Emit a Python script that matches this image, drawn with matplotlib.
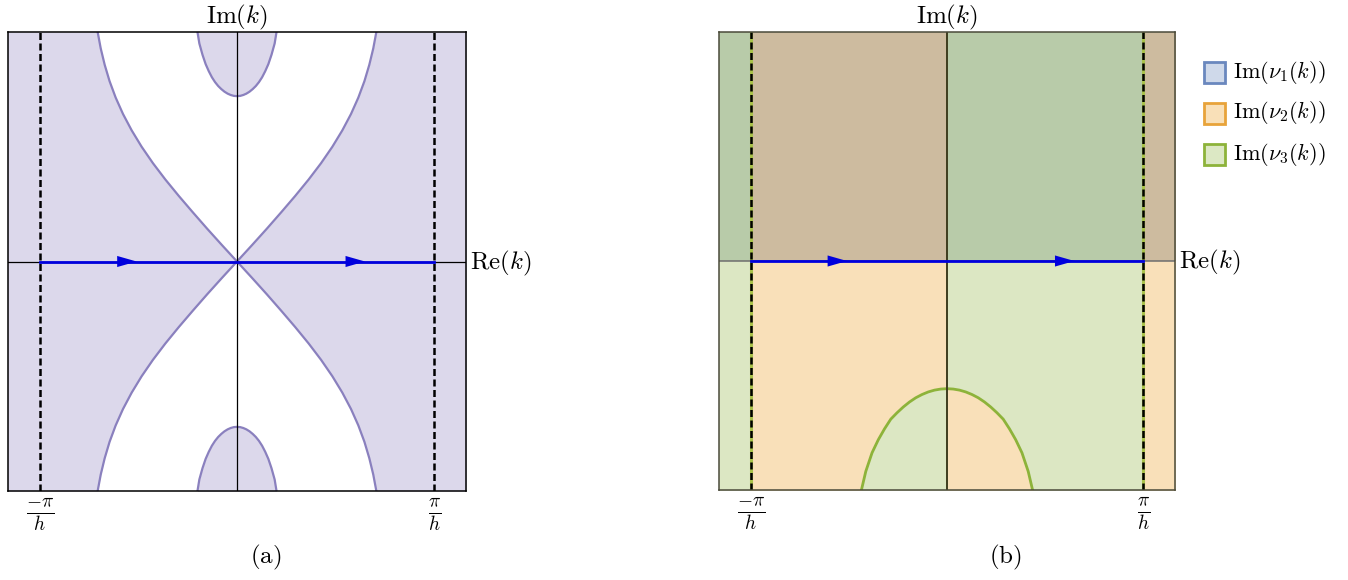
import numpy as np
import matplotlib.pyplot as plt
from matplotlib.patches import Rectangle

plt.rcParams['mathtext.fontset'] = 'cm'
plt.rcParams['font.family'] = 'DejaVu Serif'

# half-width of the plotted window in both directions (units of k, h = 1)
LIM = 3.65

# (a) boundary of the shaded sectors: |Re k| as a function of |Im k|
sep_im = [0.0, 0.261, 0.521, 0.782, 1.043, 1.304, 1.564, 1.825, 2.086, 2.346, 2.607, 2.868, 3.129, 3.389, 3.65]
sep_re = [0.0, 0.240, 0.475, 0.704, 0.928, 1.142, 1.340, 1.520, 1.679, 1.817, 1.934, 2.031, 2.109, 2.172, 2.221]

# (a) the two bubbles on the imaginary axis: |Im k| of the rim vs Re k
bub_re = [0.0, 0.05, 0.10, 0.15, 0.20, 0.25, 0.30, 0.35, 0.40, 0.45, 0.50, 0.55, 0.60, 0.63]
bub_im = [2.63, 2.634, 2.648, 2.670, 2.701, 2.742, 2.791, 2.853, 2.93, 3.027, 3.14, 3.288, 3.467, 3.65]

# (b) bubble below the real axis: Im k of the rim vs |Re k|
arc_re = [0.0, 0.1, 0.2, 0.3, 0.4, 0.5, 0.6, 0.7, 0.8, 0.9, 1.0, 1.1, 1.2, 1.3, 1.37]
arc_im = [-2.035, -2.041, -2.058, -2.087, -2.128, -2.18, -2.247, -2.327, -2.419, -2.521,
          -2.675, -2.849, -3.057, -3.353, -3.65]

# arrow tips on the integration contour
arrow_x = [-1.60, 2.04]

tick_pos = [-np.pi, np.pi]
tick_lab = [r'$\frac{-\pi}{h}$', r'$\frac{\pi}{h}$']

legend_lab = [r'$\mathrm{Im}(\nu_1(k))$', r'$\mathrm{Im}(\nu_2(k))$', r'$\mathrm{Im}(\nu_3(k))$']
legend_face = ['#CFD9EA', '#F9E0B8', '#DCE8C4']
legend_edge = ['#6A88BE', '#E8A33A', '#8DB33A']

LAVENDER = '#DCD8EB'
PURPLE = '#8A80BE'
ORANGE = '#F9E0B9'
GREEN = '#DCE7C3'
BROWN = '#CDBB9F'
SAGE = '#B8CBA9'
BLUE = '#0000DD'


def mirrored(left, right):
    left = np.asarray(left)
    right = np.asarray(right)
    return np.concatenate([-left[::-1], left[1:]]), np.concatenate([right[::-1], right[1:]])


def contour_and_labels(ax, frame='black'):
    ax.set_xlim(-LIM, LIM)
    ax.set_ylim(-LIM, LIM)
    ax.set_yticks([])
    ax.set_xticks(tick_pos, tick_lab, fontsize=20)
    ax.tick_params(axis='x', length=0, pad=4)
    for s in ax.spines.values():
        s.set_color(frame)
        s.set_linewidth(1.1)
        s.set_zorder(6)
    ax.plot([-np.pi, np.pi], [0, 0], color=BLUE, lw=2, zorder=5)
    for xa in arrow_x:
        ax.annotate('', xy=(xa, 0), xytext=(xa - 0.05, 0),
                    arrowprops=dict(arrowstyle='-|>,head_length=1.4,head_width=0.4',
                                    color=BLUE, lw=0, shrinkA=0, shrinkB=0),
                    zorder=6)
    for xv in tick_pos:
        ax.axvline(xv, color='black', lw=1.8, ls=(0, (2.8, 1.4)), zorder=4)
    ax.text(0, LIM + 0.13, r'$\mathrm{Im}(k)$', ha='center', va='baseline', fontsize=18)
    ax.text(LIM + 0.07, -0.03, r'$\mathrm{Re}(k)$', ha='left', va='center', fontsize=18)


fig = plt.figure(figsize=(13.48, 5.80), dpi=100)

# ---- (a) ----
ax1 = fig.add_axes([8 / 1348, 89 / 580, 458 / 1348, 459 / 580])
yy, xx = mirrored(sep_im, sep_re)
ax1.fill_betweenx(yy, -LIM - 1, -xx, color=LAVENDER, lw=0)
ax1.fill_betweenx(yy, xx, LIM + 1, color=LAVENDER, lw=0)
ax1.plot(-xx, yy, color=PURPLE, lw=1.6)
ax1.plot(xx, yy, color=PURPLE, lw=1.6)
bx, by = mirrored(bub_re, bub_im)
for sgn in (1, -1):
    ax1.fill_between(bx, sgn * by, sgn * (LIM + 1), color=LAVENDER, lw=0)
    ax1.plot(bx, sgn * by, color=PURPLE, lw=1.6)
ax1.axhline(0, color='black', lw=0.9, zorder=3)
ax1.axvline(0, color='black', lw=0.9, zorder=3)
contour_and_labels(ax1)

# ---- (b) ----
ax2 = fig.add_axes([719 / 1348, 90 / 580, 456 / 1348, 458 / 580])
W = LIM + 1
# upper half: nu_1 overlaps nu_2 / nu_3
ax2.fill_between([-W, -np.pi], 0, W, color=SAGE, lw=0)
ax2.fill_between([-np.pi, 0], 0, W, color=BROWN, lw=0)
ax2.fill_between([0, np.pi], 0, W, color=SAGE, lw=0)
ax2.fill_between([np.pi, W], 0, W, color=BROWN, lw=0)
# lower half: nu_2 / nu_3 only
ax2.fill_between([-W, -np.pi], -W, 0, color=GREEN, lw=0)
ax2.fill_between([-np.pi, 0], -W, 0, color=ORANGE, lw=0)
ax2.fill_between([0, np.pi], -W, 0, color=GREEN, lw=0)
ax2.fill_between([np.pi, W], -W, 0, color=ORANGE, lw=0)
ar = np.asarray(arc_re)
ai = np.asarray(arc_im)
ax2.fill_between(-ar, ai, -W, color=GREEN, lw=0)
ax2.fill_between(ar, ai, -W, color=ORANGE, lw=0)
cx, cy = mirrored(arc_re, arc_im)
ax2.plot(cx, cy, color='#8DB33A', lw=2, zorder=3)
for xv in tick_pos:
    ax2.axvline(xv, color='#A9C24A', lw=2.2, zorder=3)
ax2.axhline(0, color='#6E6E6E', lw=1.1, zorder=3)
ax2.axvline(0, color='#3E3D1E', lw=1.4, zorder=3)
contour_and_labels(ax2, frame='#4A4A3A')

# legend of panel (b)
for i, (lab, fc, ec) in enumerate(zip(legend_lab, legend_face, legend_edge)):
    yc = 72 + 41 * i
    fig.patches.append(Rectangle((1204 / 1348, 1 - (yc + 11) / 580), 21 / 1348, 21 / 580,
                                 transform=fig.transFigure, facecolor=fc, edgecolor=ec, lw=2))
    fig.text(1233 / 1348, 1 - yc / 580, lab, ha='left', va='center', fontsize=16)

fig.text(266 / 1348, 1 - 557 / 580, r'$\mathrm{(a)}$', ha='center', va='center', fontsize=18)
fig.text(1005 / 1348, 1 - 557 / 580, r'$\mathrm{(b)}$', ha='center', va='center', fontsize=18)

fig.savefig('out.png', dpi=100)
